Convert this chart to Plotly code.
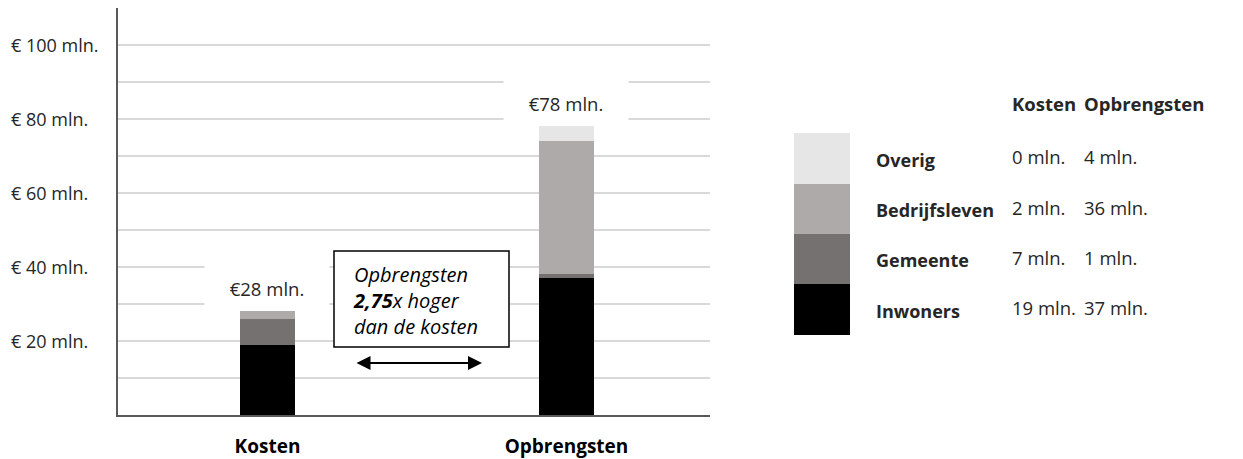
import plotly.graph_objects as go

# ---- data ----
categories = ["Kosten", "Opbrengsten"]
series_names = ["Inwoners", "Gemeente", "Bedrijfsleven", "Overig"]
inwoners = [19, 37]
gemeente = [7, 1]
bedrijfsleven = [2, 36]
overig = [0, 4]
totals = [28, 78]
total_labels = ["€28 mln.", "€78 mln."]
grid_vals = [10, 20, 30, 40, 50, 60, 70, 80, 90, 100]
tick_vals = [20, 40, 60, 80, 100]
tick_labels = ["€ 20 mln.", "€ 40 mln.", "€ 60 mln.", "€ 80 mln.", "€ 100 mln."]
table_kosten = ["19 mln.", "7 mln.", "2 mln.", "0 mln."]
table_opbrengsten = ["37 mln.", "1 mln.", "36 mln.", "4 mln."]
colors = ["#000000", "#767171", "#AEAAAA", "#E7E6E6"]

FONT = "Open Sans"
OFF = 8  # page body margin
W, H = 1243 - OFF, 459 - OFF
L, R, T, B = 118 - OFF, 0, 0, 44
PLOT_RIGHT = 710 - OFF
plot_h = H - T - B
paper_w = W - L - R

def px2x(px):
    return (px - OFF - L) / paper_w

def px2y(py):
    return (H - B - (py - OFF)) / plot_h

TXT = "#262626"
fig = go.Figure()
values = [inwoners, gemeente, bedrijfsleven, overig]
for name, vals, col in zip(series_names, values, colors):
    fig.add_trace(go.Bar(x=[0, 1], y=vals, name=name, marker=dict(color=col, line=dict(width=0)),
                         width=0.187, showlegend=False, hoverinfo="skip"))

annotations = []
shapes = []
# bar total labels with white backgrounds
for i, (tot, lab) in enumerate(zip(totals, total_labels)):
    annotations.append(dict(x=i, y=tot, xref="x", yref="y", text=lab, showarrow=False,
                            xanchor="center", yanchor="bottom", bgcolor="white", width=120, height=40,
                            borderpad=2, font=dict(family=FONT, size=18.5, color=TXT)))

# y tick labels (left aligned)
for v, lab in zip(tick_vals, tick_labels):
    annotations.append(dict(x=0, y=v, xref="paper", yref="y", text=lab, showarrow=False,
                            xanchor="left", yanchor="middle", xshift=-(L - 1),
                            font=dict(family=FONT, size=18, color=TXT)))

# ratio box
shapes.append(dict(type="rect", xref="paper", yref="paper", x0=px2x(334), x1=px2x(509),
                   y0=px2y(347), y1=px2y(251), fillcolor="white", line=dict(color="black", width=1.5),
                   layer="above"))
annotations.append(dict(x=px2x(351), y=px2y(300), xref="paper", yref="paper",
                        text="<i>Opbrengsten<br><b>2,75</b>x hoger<br>dan de kosten</i>",
                        showarrow=False, align="left", xanchor="left", yanchor="middle",
                        font=dict(family=FONT, size=20, color="black")))
# double arrow
annotations.append(dict(x=px2x(482), y=px2y(363), xref="paper", yref="paper", text="",
                        showarrow=True, ax=-127, ay=0, arrowside="end+start", arrowhead=2,
                        arrowsize=1.4, arrowwidth=2, arrowcolor="black"))

# legend table
row_edges = [335, 284, 234, 184, 133]  # Inwoners bottom -> Overig top
for k, (name, col) in enumerate(zip(series_names, colors)):
    y0, y1 = row_edges[k], row_edges[k + 1]
    shapes.append(dict(type="rect", xref="paper", yref="paper", x0=px2x(794), x1=px2x(850),
                       y0=px2y(y0), y1=px2y(y1), fillcolor=col, line=dict(width=0), layer="above"))
    yc = (y0 + y1) / 2
    annotations.append(dict(x=px2x(874), y=px2y(yc + 1), xref="paper", yref="paper", text="<b>" + name + "</b>",
                            showarrow=False, xanchor="left", yanchor="middle",
                            font=dict(family=FONT, size=18, color=TXT)))
    annotations.append(dict(x=px2x(1010), y=px2y(yc - 2), xref="paper", yref="paper",
                            text=table_kosten[k], showarrow=False, xanchor="left", yanchor="middle",
                            font=dict(family=FONT, size=18.5, color=TXT)))
    annotations.append(dict(x=px2x(1082), y=px2y(yc - 2), xref="paper", yref="paper",
                            text=table_opbrengsten[k], showarrow=False, xanchor="left", yanchor="middle",
                            font=dict(family=FONT, size=18.5, color=TXT)))
for xpx, lab in zip([1010, 1082], categories):
    annotations.append(dict(x=px2x(xpx), y=px2y(103), xref="paper", yref="paper", text="<b>" + lab + "</b>",
                            showarrow=False, xanchor="left", yanchor="middle",
                            font=dict(family=FONT, size=18.5, color=TXT)))

fig.update_layout(
    width=W, height=H, margin=dict(l=L, r=R, t=T, b=B),
    plot_bgcolor="white", paper_bgcolor="white", barmode="stack", bargap=0,
    font=dict(family=FONT, color=TXT),
    annotations=annotations, shapes=shapes,
    xaxis=dict(domain=[0, (PLOT_RIGHT - L) / paper_w], range=[-0.5, 1.48], tickmode="array",
               tickvals=[0, 1], ticktext=["<b>" + c + "</b>" for c in categories],
               tickfont=dict(family=FONT, size=19, color="black"), ticklabelstandoff=13,
               showline=True, linecolor="#595959", linewidth=1.5, showgrid=False, zeroline=False, ticks=""),
    yaxis=dict(range=[0, 110], tickmode="array", tickvals=grid_vals, showticklabels=False,
               showgrid=True, gridcolor="#D9D9D9", gridwidth=1.5, showline=True, linecolor="#595959",
               linewidth=1.5, zeroline=False, ticks=""),
)

fig.write_html("out.html")
